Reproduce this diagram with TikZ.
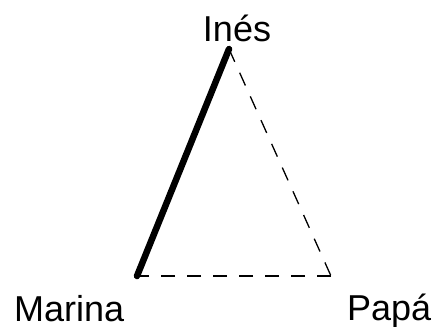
\documentclass[tikz,border=0pt]{standalone}
\usepackage{fontspec}
\setmainfont{Liberation Sans}
\begin{document}
\begin{tikzpicture}[x=1pt,y=-1pt,
  lbl/.style={inner sep=0pt,font=\fontsize{36}{40}\selectfont},
  strong/.style={line width=6.5pt,line cap=round},
  weak/.style={line width=1.3pt,dash pattern=on 14pt off 12pt}]
\useasboundingbox (0,0) rectangle (437,327);
\coordinate (I) at (229,49);
\coordinate (M) at (137,276);
\coordinate (P) at (331,276);
\node[lbl,anchor=base] (ti) at (237,41) {Inés};
\node[lbl,anchor=base west] (tm) at (14,321) {Marina};
\node[lbl,anchor=base west] (tp) at (347,320) {Papá};
\draw[strong] (M) -- (I);
\draw[weak] (I) -- (P);
\draw[weak] (P) -- (M);
\end{tikzpicture}
\end{document}
